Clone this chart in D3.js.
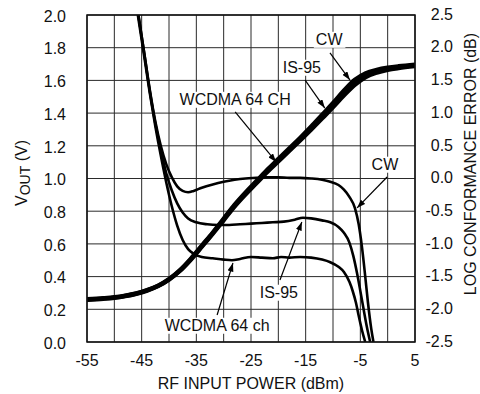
<!DOCTYPE html>
<meta charset="utf-8">
<style>
	body { margin: 0; background: #fff; }
	text { font-family: "Liberation Sans", Arial, sans-serif; font-size: 16px; fill: #111; }
	.grid line { stroke: #2a2a2a; stroke-width: 1px; }
	.frame { fill: none; stroke: #111; stroke-width: 1.5px; }
	.vout { fill: none; stroke: #000; stroke-width: 4.2px; }
	.err { fill: none; stroke: #000; stroke-width: 2.6px; }
	.arrow { stroke: #000; stroke-width: 1.2px; }
</style>
<body>
<script src="https://d3js.org/d3.v7.min.js"></script>
<script>

// Axis ticks
var xTicks = [-55, -45, -35, -25, -15, -5, 5];
var xGrid = d3.range(-55, 6, 5);
var yLeftTicks = [0, 0.2, 0.4, 0.6, 0.8, 1.0, 1.2, 1.4, 1.6, 1.8, 2.0];
var yRightTicks = [-2.5, -2.0, -1.5, -1.0, -0.5, 0.0, 0.5, 1.0, 1.5, 2.0, 2.5];

// VOUT (V) vs RF input power (dBm)
var voutCW = [[-55,0.262],[-52,0.268],[-50,0.274],[-48,0.284],[-46,0.298],[-44,0.318],[-42,0.345],[-40,0.385],[-38,0.44],[-36,0.51],[-34,0.59],[-32,0.67],[-30,0.755],[-28,0.84],[-26,0.915],[-24,0.985],[-22,1.055],[-20,1.12],[-18,1.185],[-16,1.25],[-14,1.318],[-12,1.39],[-10,1.462],[-8,1.538],[-6,1.604],[-4,1.645],[-2,1.665],[0,1.678],[2,1.687],[5,1.697]];
var voutIS95 = [[-55,0.26],[-52,0.266],[-50,0.272],[-48,0.282],[-46,0.296],[-44,0.316],[-42,0.343],[-40,0.383],[-38,0.437],[-36,0.507],[-34,0.586],[-32,0.666],[-30,0.75],[-28,0.834],[-26,0.909],[-24,0.978],[-22,1.048],[-20,1.112],[-18,1.177],[-16,1.242],[-14,1.308],[-12,1.378],[-10,1.449],[-8,1.522],[-6,1.588],[-4,1.632],[-2,1.656],[0,1.671],[2,1.681],[5,1.692]];
var voutWCDMA = [[-55,0.258],[-52,0.264],[-50,0.27],[-48,0.28],[-46,0.294],[-44,0.314],[-42,0.341],[-40,0.381],[-38,0.434],[-36,0.503],[-34,0.581],[-32,0.661],[-30,0.744],[-28,0.828],[-26,0.902],[-24,0.971],[-22,1.04],[-20,1.104],[-18,1.168],[-16,1.233],[-14,1.298],[-12,1.366],[-10,1.436],[-8,1.507],[-6,1.572],[-4,1.62],[-2,1.647],[0,1.664],[2,1.675],[5,1.687]];

// Log conformance error (dB) vs RF input power (dBm)
var errCW = [[-45.6,2.5],[-44.5,1.9],[-43.5,1.35],[-42.5,0.87],[-41.5,0.5],[-40.5,0.22],[-39.5,0.02],[-38.5,-0.12],[-37.5,-0.19],[-36.5,-0.21],[-35.5,-0.19],[-34,-0.14],[-32,-0.09],[-30,-0.05],[-28,-0.02],[-26,0.0],[-24,0.01],[-22,0.02],[-20,0.02],[-18,0.01],[-16,0.01],[-14,0.0],[-12,-0.02],[-10.5,-0.05],[-9,-0.1],[-8,-0.17],[-7,-0.28],[-6,-0.45],[-5.3,-0.7],[-4.7,-1.05],[-4.1,-1.5],[-3.6,-1.9],[-3,-2.3],[-2.6,-2.5]];
var errIS95 = [[-45.6,2.5],[-44.5,1.9],[-43.5,1.33],[-42.5,0.84],[-41.5,0.43],[-40.5,0.08],[-39.5,-0.18],[-38.5,-0.38],[-37.5,-0.52],[-36.5,-0.61],[-35,-0.67],[-33,-0.7],[-31,-0.71],[-29,-0.71],[-27,-0.7],[-25,-0.69],[-23,-0.68],[-21,-0.67],[-19,-0.66],[-17,-0.63],[-15.5,-0.6],[-14,-0.61],[-12,-0.64],[-10.5,-0.67],[-9,-0.74],[-8,-0.83],[-7,-0.98],[-6.3,-1.18],[-5.6,-1.45],[-5,-1.72],[-4.4,-2.0],[-3.8,-2.27],[-3.2,-2.5]];
var errWCDMA = [[-45.7,2.5],[-44.5,1.85],[-43.5,1.3],[-42.5,0.8],[-41.5,0.35],[-40.5,-0.06],[-39.5,-0.42],[-38.5,-0.72],[-37.5,-0.94],[-36.5,-1.08],[-35.5,-1.15],[-34,-1.2],[-32,-1.22],[-30,-1.24],[-28.5,-1.25],[-27,-1.23],[-25,-1.2],[-23,-1.21],[-21,-1.22],[-19.5,-1.2],[-18,-1.21],[-16,-1.2],[-14,-1.21],[-12,-1.24],[-10.5,-1.28],[-9,-1.35],[-8,-1.43],[-7,-1.58],[-6.4,-1.72],[-5.8,-1.9],[-5.3,-2.1],[-4.7,-2.32],[-4.1,-2.5]];

// Callouts: label text, label centre, arrow start, arrow tip (dBm, V)
var calloutText = ["CW", "IS-95", "WCDMA 64 CH", "CW", "IS-95", "WCDMA 64 ch"];
var calloutAt = [[-10.7,1.853],[-15.7,1.682],[-27.9,1.486],[-0.5,1.089],[-19.9,0.306],[-31.2,0.104]];
var calloutFrom = [[-10.55,1.768],[-15.1,1.602],[-27.9,1.407],[-0.1,1.009],[-19.7,0.379],[-31.2,0.165]];
var calloutTo = [[-6.9,1.602],[-11.5,1.431],[-20.4,1.101],[-5.6,0.82],[-15.7,0.734],[-28.3,0.483]];

var W = 480, H = 394;
var plot = {left: 87, top: 15, right: 415, bottom: 342};

var x = d3.scaleLinear().domain([-55, 5]).range([plot.left, plot.right]);
var yL = d3.scaleLinear().domain([0, 2]).range([plot.bottom, plot.top]);
var yR = d3.scaleLinear().domain([-2.5, 2.5]).range([plot.bottom, plot.top]);

var svg = d3.select("body").append("svg")
	.attr("width", W)
	.attr("height", H);

svg.append("defs").append("clipPath").attr("id", "clip")
	.append("rect")
	.attr("x", plot.left).attr("y", plot.top)
	.attr("width", plot.right - plot.left)
	.attr("height", plot.bottom - plot.top);

svg.select("defs").append("marker")
	.attr("id", "head")
	.attr("viewBox", "0 0 10 7")
	.attr("refX", 10).attr("refY", 3.5)
	.attr("markerWidth", 9).attr("markerHeight", 6)
	.attr("markerUnits", "userSpaceOnUse")
	.attr("orient", "auto")
	.append("path").attr("d", "M0,0L10,3.5L0,7Z").attr("fill", "#000");

// Grid
var grid = svg.append("g").attr("class", "grid");
grid.selectAll(".gx").data(xGrid).enter().append("line")
	.attr("x1", d => x(d)).attr("x2", d => x(d))
	.attr("y1", plot.top).attr("y2", plot.bottom);
grid.selectAll(".gy").data(yLeftTicks).enter().append("line")
	.attr("x1", plot.left).attr("x2", plot.right)
	.attr("y1", d => yL(d)).attr("y2", d => yL(d));

// Curves
var g = svg.append("g").attr("clip-path", "url(#clip)");
var lineV = d3.line().x(d => x(d[0])).y(d => yL(d[1])).curve(d3.curveMonotoneX);
var lineE = d3.line().x(d => x(d[0])).y(d => yR(d[1])).curve(d3.curveMonotoneX);

[errCW, errIS95, errWCDMA].forEach(function(s) {
	g.append("path").datum(s).attr("class", "err").attr("d", lineE);
});
[voutWCDMA, voutIS95, voutCW].forEach(function(s) {
	g.append("path").datum(s).attr("class", "vout").attr("d", lineV);
});

svg.append("rect").attr("class", "frame")
	.attr("x", plot.left).attr("y", plot.top)
	.attr("width", plot.right - plot.left)
	.attr("height", plot.bottom - plot.top);

// Callouts
calloutText.forEach(function(t, i) {
	svg.append("line").attr("class", "arrow")
		.attr("x1", x(calloutFrom[i][0])).attr("y1", yL(calloutFrom[i][1]))
		.attr("x2", x(calloutTo[i][0])).attr("y2", yL(calloutTo[i][1]))
		.attr("marker-end", "url(#head)");
	var bg = svg.append("rect").attr("fill", "#fff");
	var tx = svg.append("text")
		.attr("x", x(calloutAt[i][0])).attr("y", yL(calloutAt[i][1]))
		.attr("dy", "0.36em")
		.attr("text-anchor", "middle")
		.text(t);
	var b = tx.node().getBBox();
	bg.attr("x", b.x - 2).attr("y", b.y + 1).attr("width", b.width + 4).attr("height", b.height - 1);
});

// Axis labels
svg.selectAll(".xt").data(xTicks).enter().append("text")
	.attr("x", d => x(d)).attr("y", 366)
	.attr("text-anchor", "middle")
	.text(d => d);

svg.selectAll(".yl").data(yLeftTicks).enter().append("text")
	.attr("x", 66).attr("y", d => yL(d) + 1)
	.attr("dy", "0.36em")
	.attr("text-anchor", "end")
	.text(d => d.toFixed(1));

svg.selectAll(".yr").data(yRightTicks).enter().append("text")
	.attr("x", 453).attr("y", d => yR(d) - 1)
	.attr("dy", "0.36em")
	.attr("text-anchor", "end")
	.text(d => d.toFixed(1));

svg.append("text")
	.attr("x", (plot.left + plot.right) / 2).attr("y", 389)
	.attr("text-anchor", "middle")
	.text("RF INPUT POWER (dBm)");

var yt = svg.append("text")
	.attr("transform", "translate(27,173) rotate(-90)")
	.attr("text-anchor", "middle");
yt.append("tspan").text("V");
yt.append("tspan").attr("dy", 3).style("font-size", "14px").text("OUT");
yt.append("tspan").attr("dy", -3).text(" (V)");

svg.append("text")
	.attr("transform", "translate(476,164) rotate(-90)")
	.attr("text-anchor", "middle")
	.text("LOG CONFORMANCE ERROR (dB)");

</script>
</body>
